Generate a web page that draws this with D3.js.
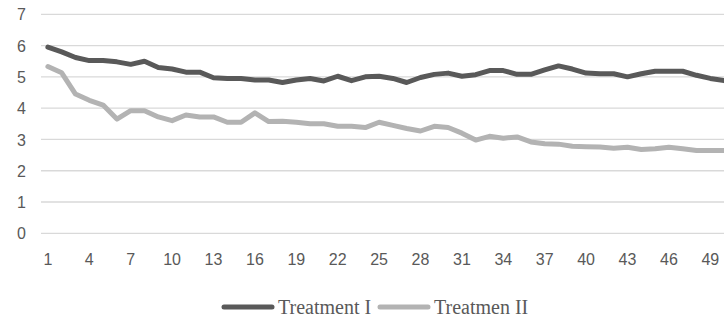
<!DOCTYPE html>
<html><head><meta charset="utf-8">
<script src="https://cdn.jsdelivr.net/npm/d3@7"></script>
<style>body{margin:0;background:#fff}svg{display:block}</style>
</head><body>
<script>
const categories = d3.range(1, 51);
const seriesNames = ["Treatment I", "Treatmen II"];
const treatment1 = [5.95,5.8,5.62,5.52,5.52,5.48,5.4,5.5,5.3,5.25,5.15,5.15,4.97,4.95,4.95,4.9,4.9,4.82,4.9,4.95,4.87,5.02,4.88,5.0,5.02,4.95,4.82,4.98,5.08,5.12,5.02,5.07,5.2,5.2,5.08,5.08,5.22,5.35,5.25,5.12,5.1,5.1,5.0,5.1,5.18,5.18,5.18,5.05,4.95,4.88];
const treatment2 = [5.33,5.13,4.45,4.25,4.1,3.65,3.92,3.92,3.72,3.6,3.78,3.72,3.72,3.55,3.55,3.85,3.57,3.58,3.55,3.5,3.5,3.42,3.42,3.38,3.55,3.45,3.35,3.27,3.42,3.38,3.2,2.98,3.1,3.04,3.08,2.92,2.86,2.85,2.78,2.77,2.76,2.72,2.75,2.68,2.7,2.75,2.7,2.65,2.65,2.65];
const yTicks = [0,1,2,3,4,5,6,7];
const xTickLabels = categories.filter((d,i) => i % 3 === 0);
const colors = ["#595959", "#b3b3b3"];

const W = 724, H = 320;
const svg = d3.select("body").append("svg").attr("width", W).attr("height", H);
const x = d3.scaleBand().domain(categories).range([41, 731]);
const y = d3.scaleLinear().domain([0, 7]).range([233.3, 14.3]);

// gridlines
svg.append("g").selectAll("line").data(yTicks).join("line")
  .attr("x1", 41).attr("x2", W).attr("y1", d => y(d)).attr("y2", d => y(d))
  .attr("stroke", "#d9d9d9").attr("stroke-width", 1.3);

// y axis labels
const yAxis = d3.axisLeft(y).tickValues(yTicks).tickFormat(d3.format("d")).tickSize(0).tickPadding(0);
svg.append("g").attr("transform", "translate(26,0)").call(yAxis)
  .call(g => g.select(".domain").remove())
  .call(g => g.selectAll("text").attr("font-family", "Liberation Sans, Arial, sans-serif").attr("font-size", 16).attr("fill", "#595959").attr("dy", "0.35em"));

// x axis labels
const xAxis = d3.axisBottom(x).tickValues(xTickLabels).tickSize(0).tickPadding(0);
svg.append("g").attr("transform", "translate(0,254)").call(xAxis)
  .call(g => g.select(".domain").remove())
  .call(g => g.selectAll("text").attr("font-family", "Liberation Sans, Arial, sans-serif").attr("font-size", 16).attr("fill", "#595959").attr("dy", "0.71em"));

const line = d3.line().x((d,i) => x(categories[i]) + x.bandwidth()/2).y(d => y(d));
[treatment1, treatment2].slice().reverse().forEach((s, k) => {
  const idx = 1 - k;
  svg.append("path").datum(s).attr("d", line)
    .attr("fill", "none").attr("stroke", colors[idx]).attr("stroke-width", 5)
    .attr("stroke-linejoin", "round").attr("stroke-linecap", "round");
});

// legend
const legend = [
  {name: seriesNames[0], color: colors[0], x1: 224, x2: 272, tx: 278},
  {name: seriesNames[1], color: colors[1], x1: 380, x2: 428, tx: 434}
];
const lg = svg.append("g");
legend.forEach(l => {
  lg.append("line").attr("x1", l.x1).attr("x2", l.x2).attr("y1", 307).attr("y2", 307)
    .attr("stroke", l.color).attr("stroke-width", 5).attr("stroke-linecap", "round");
  lg.append("text").attr("x", l.tx).attr("y", 314).text(l.name)
    .attr("font-family", "Liberation Serif, Times New Roman, serif").attr("font-size", 20).attr("fill", "#595959");
});
</script>
</body></html>
